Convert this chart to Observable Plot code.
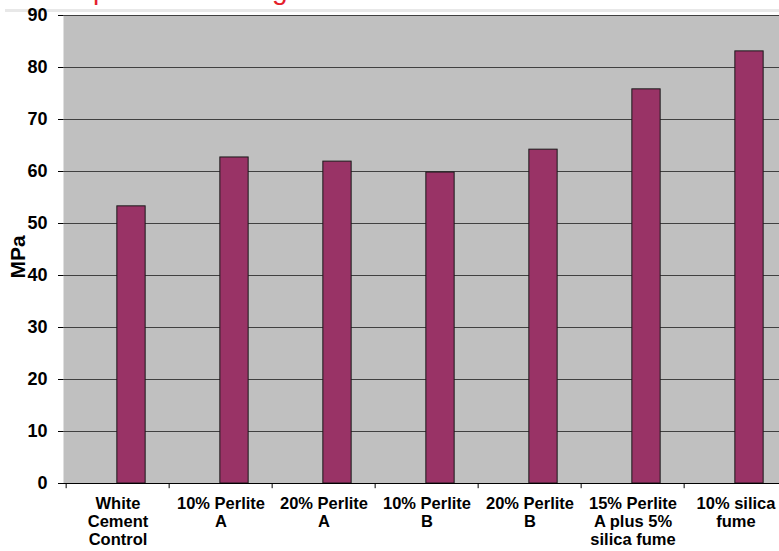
<!DOCTYPE html>
<html>
<head>
<meta charset="utf-8">
<script src="https://cdn.jsdelivr.net/npm/d3@7"></script>
<script src="https://cdn.jsdelivr.net/npm/@observablehq/plot@0.6"></script>
<style>
  html, body { margin: 0; padding: 0; background: #fff; overflow: hidden; width: 779px; height: 551px; }
  #wrap { position: relative; width: 779px; height: 551px; overflow: hidden; }
  #title { position: absolute; left: 34px; top: -24px; font: 28px/28px "Liberation Sans", Arial, sans-serif; color: #e41e2b; white-space: nowrap; z-index: 2; }
  #band { position: absolute; left: 5px; right: 0; top: 9px; height: 3px; background: #e8e8e8; z-index: 1; }
  #chart { position: absolute; left: 0; top: 0; z-index: 3; width: 800px; }
  #chart svg { max-width: none !important; }
</style>
</head>
<body>
<div id="wrap">
  <div id="title">Compressive Strength</div>
  <div id="band"></div>
  <div id="chart"></div>
</div>
<script>
const categories = [
  "White Cement Control",
  "10% Perlite A",
  "20% Perlite A",
  "10% Perlite B",
  "20% Perlite B",
  "15% Perlite A plus 5% silica fume",
  "10% silica fume"
];
const tickLabels = [
  "White\nCement\nControl",
  "10% Perlite\nA",
  "20% Perlite\nA",
  "10% Perlite\nB",
  "20% Perlite\nB",
  "15% Perlite\nA plus 5%\nsilica fume",
  "10% silica\nfume"
];
const strengthMPa = [53.3, 62.7, 61.9, 59.8, 64.2, 75.8, 83.1];
const yTicks = [0, 10, 20, 30, 40, 50, 60, 70, 80, 90];
const yLabel = "MPa";

const data = categories.map((c, i) => ({category: c, value: strengthMPa[i]}));
const labelOf = new Map(categories.map((c, i) => [c, tickLabels[i]]));

const W = 800, H = 551;
const mL = 63, mR = 11, mT = 15, mB = 68;
const bw = (W - mL - mR) / categories.length;

const chart = Plot.plot({
  width: W,
  height: H,
  marginLeft: mL,
  marginRight: mR,
  marginTop: mT,
  marginBottom: mB,
  style: {fontFamily: "'Liberation Sans', Arial, sans-serif", background: "transparent", overflow: "visible", maxWidth: "none"},
  x: {type: "band", domain: categories, padding: 0, axis: null},
  y: {domain: [0, 90], axis: null},
  marks: [
    Plot.frame({fill: "#c0c0c0", stroke: null}),
    Plot.ruleY(yTicks.filter(d => d > 0), {stroke: "#404040", strokeWidth: 1}),
    Plot.barY(data, {
      x: "category", y: "value",
      fill: "#993366", stroke: "#1a1a1a", strokeWidth: 1,
      insetLeft: bw / 2 - 1, insetRight: bw / 2 - 28
    }),
    Plot.ruleY([0], {stroke: "#000", strokeWidth: 1}),
    Plot.ruleX([0], {frameAnchor: "left", stroke: "#000"}),
    // category boundary ticks
    Plot.ruleX(categories, {x: d => d, y1: 0, y2: -1, dx: -bw / 2, stroke: "#000"}),
    Plot.axisY(yTicks, {
      tickSize: 5, tickPadding: 11, fontSize: 18, fontWeight: "bold",
      fill: "#000", stroke: "#000", label: null
    }),
    Plot.axisX({
      tickSize: 0, tickPadding: 13, fontSize: 16.5, fontWeight: "bold",
      lineHeight: 1.08, fill: "#000", label: null,
      tickFormat: d => labelOf.get(d)
    }),
    Plot.text([yLabel], {
      frameAnchor: "left", text: d => d, rotate: -90, dx: -45, dy: 29,
      fontSize: 21, fontWeight: "bold", fill: "#000"
    })
  ]
});
document.getElementById("chart").appendChild(chart);
</script>
</body>
</html>
